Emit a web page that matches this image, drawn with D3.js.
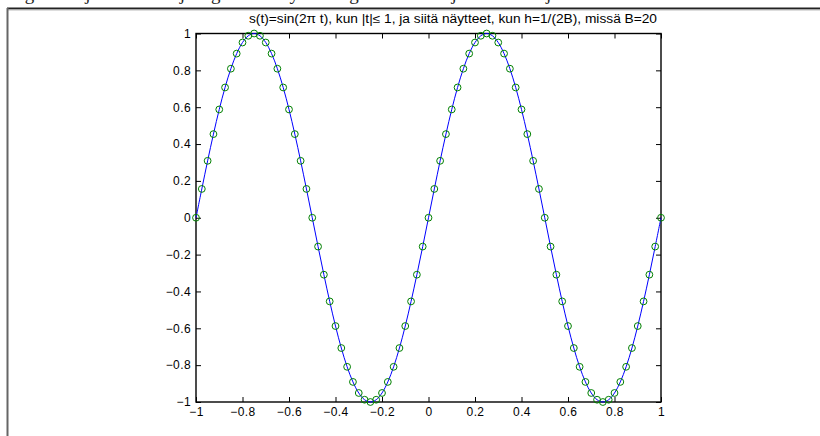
<!DOCTYPE html>
<html>
<head>
<meta charset="utf-8">
<script src="https://cdn.jsdelivr.net/npm/d3@7/dist/d3.min.js"></script>
<style>
  html, body { margin: 0; padding: 0; background: #fff; }
  svg { display: block; }
  text { font-family: "Liberation Sans", Arial, sans-serif; }
</style>
</head>
<body>
<svg id="chart" width="820" height="436"></svg>
<script>
// Sample instants t = -1 ... 1, step h = 1/(2B) = 0.025
const sampleTimes = [
  -1.000, -0.975, -0.950, -0.925, -0.900, -0.875, -0.850, -0.825, -0.800, -0.775,
  -0.750, -0.725, -0.700, -0.675, -0.650, -0.625, -0.600, -0.575, -0.550, -0.525,
  -0.500, -0.475, -0.450, -0.425, -0.400, -0.375, -0.350, -0.325, -0.300, -0.275,
  -0.250, -0.225, -0.200, -0.175, -0.150, -0.125, -0.100, -0.075, -0.050, -0.025,
   0.000,  0.025,  0.050,  0.075,  0.100,  0.125,  0.150,  0.175,  0.200,  0.225,
   0.250,  0.275,  0.300,  0.325,  0.350,  0.375,  0.400,  0.425,  0.450,  0.475,
   0.500,  0.525,  0.550,  0.575,  0.600,  0.625,  0.650,  0.675,  0.700,  0.725,
   0.750,  0.775,  0.800,  0.825,  0.850,  0.875,  0.900,  0.925,  0.950,  0.975,
   1.000
];
// Sample values s(t)
const sampleValues = [
   0.0000,  0.1564,  0.3090,  0.4540,  0.5878,  0.7071,  0.8090,  0.8910,  0.9511,  0.9877,
   1.0000,  0.9877,  0.9511,  0.8910,  0.8090,  0.7071,  0.5878,  0.4540,  0.3090,  0.1564,
   0.0000, -0.1564, -0.3090, -0.4540, -0.5878, -0.7071, -0.8090, -0.8910, -0.9511, -0.9877,
  -1.0000, -0.9877, -0.9511, -0.8910, -0.8090, -0.7071, -0.5878, -0.4540, -0.3090, -0.1564,
   0.0000,  0.1564,  0.3090,  0.4540,  0.5878,  0.7071,  0.8090,  0.8910,  0.9511,  0.9877,
   1.0000,  0.9877,  0.9511,  0.8910,  0.8090,  0.7071,  0.5878,  0.4540,  0.3090,  0.1564,
   0.0000, -0.1564, -0.3090, -0.4540, -0.5878, -0.7071, -0.8090, -0.8910, -0.9511, -0.9877,
  -1.0000, -0.9877, -0.9511, -0.8910, -0.8090, -0.7071, -0.5878, -0.4540, -0.3090, -0.1564,
   0.0000
];
const xTicks = [-1, -0.8, -0.6, -0.4, -0.2, 0, 0.2, 0.4, 0.6, 0.8, 1];
const yTicks = [-1, -0.8, -0.6, -0.4, -0.2, 0, 0.2, 0.4, 0.6, 0.8, 1];
const titleText = "s(t)=sin(2\u03C0 t), kun |t|\u2264 1, ja siit\u00E4 n\u00E4ytteet, kun h=1/(2B), miss\u00E4 B=20";

const svg = d3.select("#chart");

// Page frame around the figure, with the running text above it
svg.append("text")
  .attr("x", 12).attr("y", 0)
  .style("font-family", "'Liberation Serif', 'Times New Roman', serif")
  .style("font-size", "19px")
  .attr("fill", "#222")
  .text("signaalin jaksollisuus ja signaalin n\u00E4ytteet signaalista sen jaksollisuus ja");
svg.append("line")
  .attr("x1", 7).attr("x2", 820).attr("y1", 8.5).attr("y2", 8.5)
  .attr("stroke", "#222").attr("stroke-width", 2);
svg.append("line")
  .attr("x1", 7).attr("x2", 820).attr("y1", 10).attr("y2", 10)
  .attr("stroke", "#bbb").attr("stroke-width", 1);
svg.append("line")
  .attr("x1", 7.5).attr("x2", 7.5).attr("y1", 8).attr("y2", 436)
  .attr("stroke", "#666").attr("stroke-width", 2);

// Plot area
const plotLeft = 196, plotRight = 661, plotTop = 33.5, plotBottom = 402;
const x = d3.scaleLinear().domain([-1, 1]).range([plotLeft, plotRight]);
const y = d3.scaleLinear().domain([-1, 1]).range([plotBottom, plotTop]);

const fmt = d => (d < 0 ? "\u2212" + Math.abs(d) : String(d));
const tickLen = 5;

const axisStyle = g => {
  g.select(".domain").remove();
  g.selectAll(".tick line").attr("stroke", "#000").attr("stroke-width", 1);
  g.selectAll(".tick text").attr("fill", "#000")
    .style("font-family", "'Liberation Sans', Arial, sans-serif")
    .style("font-size", "12px")
    .style("letter-spacing", "0.4px");
};

// Bottom axis, ticks pointing inward
svg.append("g")
  .attr("transform", `translate(0,${plotBottom})`)
  .call(d3.axisBottom(x).tickValues(xTicks).tickFormat(fmt).tickSizeInner(-tickLen).tickSizeOuter(0).tickPadding(5))
  .call(axisStyle);
// Top axis, ticks only
svg.append("g")
  .attr("transform", `translate(0,${plotTop})`)
  .call(d3.axisTop(x).tickValues(xTicks).tickFormat("").tickSizeInner(-tickLen).tickSizeOuter(0))
  .call(axisStyle);
// Left axis
svg.append("g")
  .attr("transform", `translate(${plotLeft},0)`)
  .call(d3.axisLeft(y).tickValues(yTicks).tickFormat(fmt).tickSizeInner(-tickLen).tickSizeOuter(0).tickPadding(5))
  .call(axisStyle);
// Right axis, ticks only
svg.append("g")
  .attr("transform", `translate(${plotRight},0)`)
  .call(d3.axisRight(y).tickValues(yTicks).tickFormat("").tickSizeInner(-tickLen).tickSizeOuter(0))
  .call(axisStyle);

// Axes box
svg.append("rect")
  .attr("x", plotLeft).attr("y", plotTop)
  .attr("width", plotRight - plotLeft).attr("height", plotBottom - plotTop)
  .attr("fill", "none").attr("stroke", "#000").attr("stroke-width", 1.4);

// Title
svg.append("text")
  .attr("x", 249).attr("y", 23)
  .attr("textLength", 408)
  .attr("lengthAdjust", "spacingAndGlyphs")
  .style("font-size", "12px")
  .attr("fill", "#000")
  .text(titleText);

const points = sampleTimes.map((t, i) => ({ t, v: sampleValues[i] }));

// Signal curve
svg.append("path")
  .datum(points)
  .attr("fill", "none")
  .attr("stroke", "#0000ff")
  .attr("stroke-width", 1)
  .attr("d", d3.line().x(d => x(d.t)).y(d => y(d.v)).curve(d3.curveCatmullRom));

// Sample markers
svg.append("g").selectAll("circle")
  .data(points)
  .join("circle")
  .attr("cx", d => x(d.t))
  .attr("cy", d => y(d.v))
  .attr("r", 3.4)
  .attr("fill", "none")
  .attr("stroke", "#008000")
  .attr("stroke-width", 1);
</script>
</body>
</html>
